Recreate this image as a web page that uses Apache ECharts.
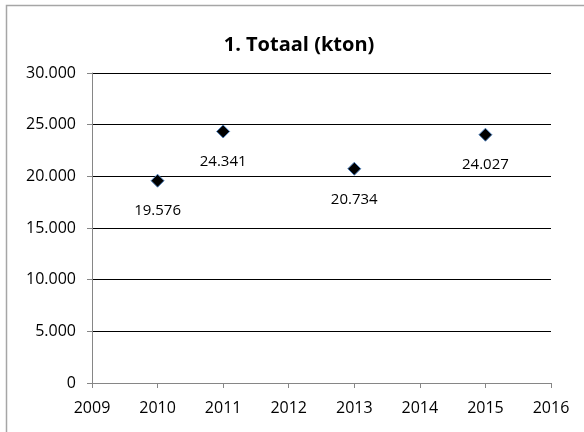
<!DOCTYPE html>
<html>
<head>
<meta charset="utf-8">
<script src="https://cdn.jsdelivr.net/npm/echarts@6/dist/echarts.min.js"></script>
<style>
  html, body { margin: 0; padding: 0; background: #fff; }
  #chart { width: 584px; height: 432px; }
</style>
</head>
<body>
<div id="chart"></div>
<script>
// data
const years = [2010, 2011, 2013, 2015]
const totals = [19576, 24341, 20734, 24027]
const yTicks = [0, 5000, 10000, 15000, 20000, 25000, 30000]

// dutch thousands separator
function fmt(v) {
  return String(Math.round(v)).replace(/\B(?=(\d{3})+(?!\d))/g, '.')
}

const myChart = echarts.init(document.getElementById('chart'))

const option = {
  animation: false,
  textStyle: { fontFamily: 'Open Sans' },
  graphic: [
    {
      // chart border, right/bottom fall outside the picture
      type: 'rect',
      shape: { x: 6.5, y: 5.5, width: 700, height: 600 },
      style: { fill: 'none', stroke: '#a6a6a6', lineWidth: 1.5 },
      silent: true
    }
  ],
  title: {
    text: '1. Totaal (kton)',
    left: 294,
    top: 30,
    textAlign: 'center',
    textStyle: { fontSize: 20, fontWeight: 'bold', color: '#000', fontFamily: 'Open Sans' }
  },
  grid: { left: 92, right: 33, top: 73, bottom: 49 },
  xAxis: {
    type: 'value',
    min: 2009,
    max: 2016,
    interval: 1,
    axisLine: { lineStyle: { color: '#868686', width: 1 } },
    axisTick: { show: true, length: 5, lineStyle: { color: '#868686' } },
    axisLabel: { color: '#000', fontSize: 16, margin: 17, formatter: v => String(v) },
    splitLine: { show: false }
  },
  yAxis: {
    type: 'value',
    min: yTicks[0],
    max: yTicks[yTicks.length - 1],
    interval: 5000,
    axisLine: { show: true, lineStyle: { color: '#868686', width: 1 } },
    axisTick: { show: true, length: 5, lineStyle: { color: '#868686' } },
    axisLabel: { color: '#000', fontSize: 16, margin: 16, formatter: v => fmt(v) },
    splitLine: { show: true, lineStyle: { color: '#000', width: 1 } }
  },
  series: [
    {
      type: 'scatter',
      symbol: 'diamond',
      symbolSize: 13,
      itemStyle: { color: '#000', borderColor: '#4f81bd', borderWidth: 1, opacity: 1 },
      label: {
        show: true,
        position: 'bottom',
        distance: 16,
        color: '#000',
        fontSize: 15,
        formatter: p => fmt(p.value[1])
      },
      data: years.map((y, i) => [y, totals[i]])
    }
  ]
}

myChart.setOption(option)
</script>
</body>
</html>
